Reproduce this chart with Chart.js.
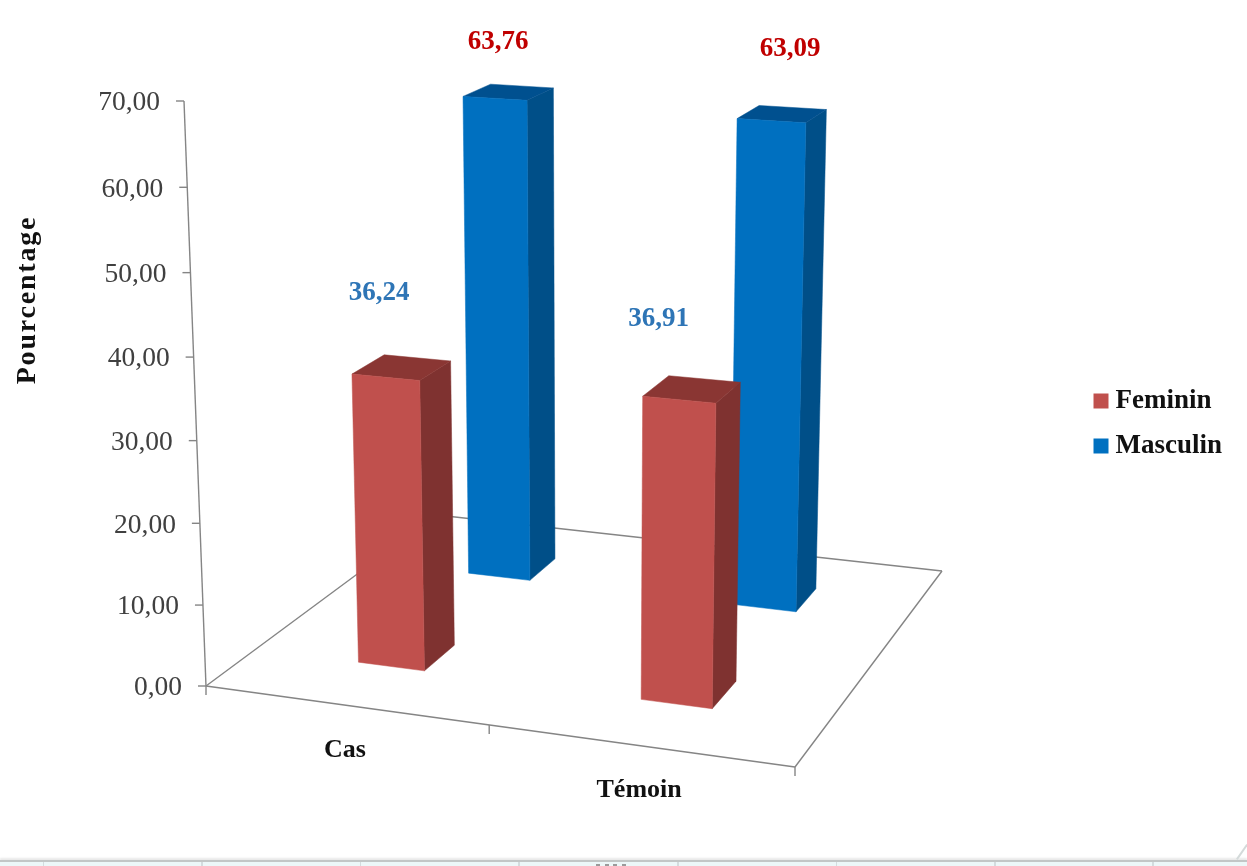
<!DOCTYPE html>
<html lang="fr">
<head>
<meta charset="utf-8">
<title>Pourcentage par sexe</title>
<style>
  html, body { margin: 0; padding: 0; background: #fff; overflow: hidden; }
  #wrap { position: relative; width: 1247px; height: 866px; overflow: hidden; }
  #strip {
    position: absolute; left: 0; right: 0; top: 860px; height: 6px;
    background: repeating-linear-gradient(90deg, #ecf7f8 0 43px, #d3dcde 43px 44.5px, #ecf7f8 44.5px 158.5px);
    border-top: 2px solid #c2c6c6; box-sizing: border-box;
    box-shadow: 0 -2px 2px #e9e9e9;
  }
  #dots {
    position: absolute; left: 596px; top: 864px; width: 32px; height: 2px;
    background: repeating-linear-gradient(90deg, #9a9a9a 0 4px, transparent 4px 8.5px);
  }
  #grip {
    position: absolute; left: 1233px; top: 851px; width: 18px; height: 2px;
    background: #d4dada; transform: rotate(-55deg);
  }
  canvas { position: absolute; left: 0; top: 0; }
</style>
<script src="https://cdn.jsdelivr.net/npm/chart.js@4/dist/chart.umd.min.js"></script>
</head>
<body>
<div id="wrap">
  <div id="strip"></div>
  <div id="dots"></div>
  <div id="grip"></div>
  <canvas id="chart" width="1247" height="866"></canvas>
</div>
<script>
// ── DATA ─────────────────────────────────────────
const categories = ['Cas', 'Témoin'];
const feminin    = [36.24, 36.91];
const masculin   = [63.76, 63.09];
const yMax       = 70;
const yStep      = 10;
const yTitle     = 'Pourcentage';

// ── LOOK ─────────────────────────────────────────
const SERIF = '"Liberation Serif", serif';
const AXIS_COLOR = '#858585';
const faces = [
  { front: '#c0504d', side: '#7f3230', top: '#8a3633' },
  { front: '#0070c0', side: '#004f88', top: '#00508f' },
];
const labelColors  = ['#2e75b6', '#c00000'];
// label shift from the centre of a bar's top, [series][category]
const labelOffsets = [[[-21, -75], [-32, -71]], [[-9, -51], [9, -66]]];

// ── 3D PROJECTION ────────────────────────────────
// floor corners on screen: front-left, front-right, back-right, back-left
const floor = [[206, 686], [795, 767], [942, 571], [437, 515]];
const VANISH = [590, 10900];    // vertical edges converge here
const BOW = 0.0367;             // upper part of the wall looks closer
const HALF_W = 0.06;            // bar footprint on the unit floor
const DEPTH_FRONT = 0.06, DEPTH_BACK = 0.073;

const [[x0, y0], [x1, y1], [x2, y2], [x3, y3]] = floor;
const den = (x1 - x2) * (y3 - y2) - (x3 - x2) * (y1 - y2);
const sx = x0 - x1 + x2 - x3, sy = y0 - y1 + y2 - y3;
const g = (sx * (y3 - y2) - (x3 - x2) * sy) / den;
const h = ((x1 - x2) * sy - sx * (y1 - y2)) / den;

function onFloor(u, v) {
  const w = 1 + g * u + h * v;
  return {
    x: ((x1 - x0 + g * x1) * u + (x3 - x0 + h * x3) * v + x0) / w,
    y: ((y1 - y0 + g * y1) * u + (y3 - y0 + h * y3) * v + y0) / w,
    w,
  };
}

// raise a floor point by a height measured on the wall axis
function raise(p, axisPx, scale = 1) {
  const px = axisPx * scale;
  return { x: p.x + (p.x - VANISH[0]) * px / (VANISH[1] - p.y), y: p.y - px };
}

// bars shrink with distance from the viewer
const depthScale = p => 0.125 + 0.862 / p.w;

function poly(ctx, pts, fill) {
  ctx.beginPath();
  pts.forEach((p, i) => (i ? ctx.lineTo(p.x, p.y) : ctx.moveTo(p.x, p.y)));
  ctx.closePath();
  ctx.fillStyle = fill;
  ctx.fill();
  ctx.strokeStyle = fill;
  ctx.lineWidth = 0.5;
  ctx.stroke();
}

function line(ctx, a, b) {
  ctx.beginPath();
  ctx.moveTo(a.x, a.y);
  ctx.lineTo(b.x, b.y);
  ctx.stroke();
}

const formatValue = v => Number(v).toFixed(2).replace('.', ',');

// ── WALL SCALE ───────────────────────────────────
class WallScale extends Chart.LinearScale {
  static id = 'wall';
  static defaults = Chart.LinearScale.defaults;

  getPixelForValue(value) {
    const t = (value - this.min) / (this.max - this.min);
    return this.bottom - this.height * t * (1 - BOW) / (1 - BOW * t);
  }

  // tick labels lean with the axis
  _computeLabelItems(area) {
    const items = super._computeLabelItems(area);
    items.forEach(item => {
      const top = raise(onFloor(0, 0), this.bottom - item.options.translation[1]);
      item.options.translation[0] = top.x - 24;
      item.options.translation[1] += 2;
    });
    return items;
  }

  _computeLabelArea() {
    return undefined;
  }
}
Chart.register(WallScale);

// ── PLUGIN: FLOOR, PRISMS, LABELS ────────────────
const scene3d = {
  id: 'scene3d',

  afterLayout(chart) {
    // legend sits lower than the plot centre
    const lg = chart.legend;
    lg.left = 1082;
    lg.right = 1247;
    lg.top += 30;
    lg.bottom += 30;
  },

  beforeDatasetsDraw(chart) {
    const { ctx, scales: { x, y } } = chart;
    ctx.save();
    ctx.strokeStyle = AXIS_COLOR;
    ctx.lineWidth = 1.4;

    // floor outline
    [[0, 1, 1, 1], [0, 0, 0, 1], [1, 0, 1, 1]].forEach(([a, b, c, d]) =>
      line(ctx, onFloor(a, b), onFloor(c, d)));
    line(ctx, onFloor(0, 0), onFloor(1, 0));

    // value axis and its ticks
    const base = onFloor(0, 0);
    line(ctx, base, raise(base, y.bottom - y.getPixelForValue(y.max)));
    y.ticks.forEach(t => {
      const p = raise(base, y.bottom - y.getPixelForValue(t.value));
      line(ctx, { x: p.x - 8, y: p.y }, p);
    });

    // category ticks
    for (let i = 0; i <= categories.length; i++) {
      const p = onFloor(i / categories.length, 0);
      line(ctx, p, { x: p.x, y: p.y + 9 });
    }

    // category labels
    ctx.fillStyle = '#111';
    ctx.font = 'bold 26px ' + SERIF;
    ctx.textAlign = 'center';
    ctx.textBaseline = 'middle';
    categories.forEach((name, i) => {
      const p = onFloor(x.getDecimalForPixel(x.getPixelForValue(i)), 0);
      ctx.fillText(name, p.x, p.y + 45);
    });

    // value axis title
    ctx.save();
    ctx.translate(28, 300);
    ctx.rotate(-Math.PI / 2);
    ctx.font = 'bold 28px ' + SERIF;
    ctx.letterSpacing = '1.8px';
    ctx.fillText(yTitle, 0, 0);
    ctx.restore();
    ctx.restore();
  },

  // bars are painted here as prisms instead of flat rectangles
  beforeDatasetDraw(chart, args) {
    const { ctx, scales: { x } } = chart;
    const s = args.index;
    const v = (s + 0.5) / chart.data.datasets.length;
    const look = faces[s];

    args.meta.data.forEach((bar, i) => {
      const u = x.getDecimalForPixel(x.getPixelForValue(i));
      const rise = bar.base - bar.y;
      const fl = onFloor(u - HALF_W, v - DEPTH_FRONT);
      const fr = onFloor(u + HALF_W, v - DEPTH_FRONT);
      const br = onFloor(u + HALF_W, v + DEPTH_BACK);
      const bl = onFloor(u - HALF_W, v + DEPTH_BACK);
      const [tfl, tfr, tbr, tbl] = [fl, fr, br, bl].map(p => raise(p, rise, depthScale(p)));

      poly(ctx, [fr, br, tbr, tfr], look.side);
      poly(ctx, [tfl, tfr, tbr, tbl], look.top);
      poly(ctx, [fl, fr, tfr, tfl], look.front);

      const mid = onFloor(u, v);
      const c = raise(mid, rise, depthScale(mid));
      const [dx, dy] = labelOffsets[s][i];
      ctx.save();
      ctx.fillStyle = labelColors[s];
      ctx.font = 'bold 27px ' + SERIF;
      ctx.textAlign = 'center';
      ctx.textBaseline = 'middle';
      ctx.fillText(formatValue(chart.data.datasets[s].data[i]), c.x + dx, c.y + dy);
      ctx.restore();
    });
    return false;
  },
};

// ── CHART ────────────────────────────────────────
new Chart(document.getElementById('chart'), {
  type: 'bar',
  data: {
    labels: categories,
    datasets: [
      { label: 'Feminin',  data: feminin,  backgroundColor: faces[0].front, borderWidth: 0 },
      { label: 'Masculin', data: masculin, backgroundColor: faces[1].front, borderWidth: 0 },
    ],
  },
  options: {
    responsive: false,
    animation: false,
    layout: { padding: { top: 101, bottom: 180, left: 60 } },
    plugins: {
      tooltip: { enabled: false },
      legend: {
        position: 'right',
        labels: {
          usePointStyle: true,
          pointStyle: 'rect',
          boxWidth: 2,
          boxHeight: 15,
          padding: 18,
          color: '#111',
          font: { family: SERIF, size: 27, weight: 'bold' },
        },
      },
    },
    scales: {
      x: { display: false, offset: true },
      y: {
        type: 'wall',
        min: 0,
        max: yMax,
        grid: { display: false },
        border: { display: false },
        ticks: {
          stepSize: yStep,
          color: '#404040',
          font: { family: SERIF, size: 27.5 },
          callback: formatValue,
        },
      },
    },
  },
  plugins: [scene3d],
});
</script>
</body>
</html>
